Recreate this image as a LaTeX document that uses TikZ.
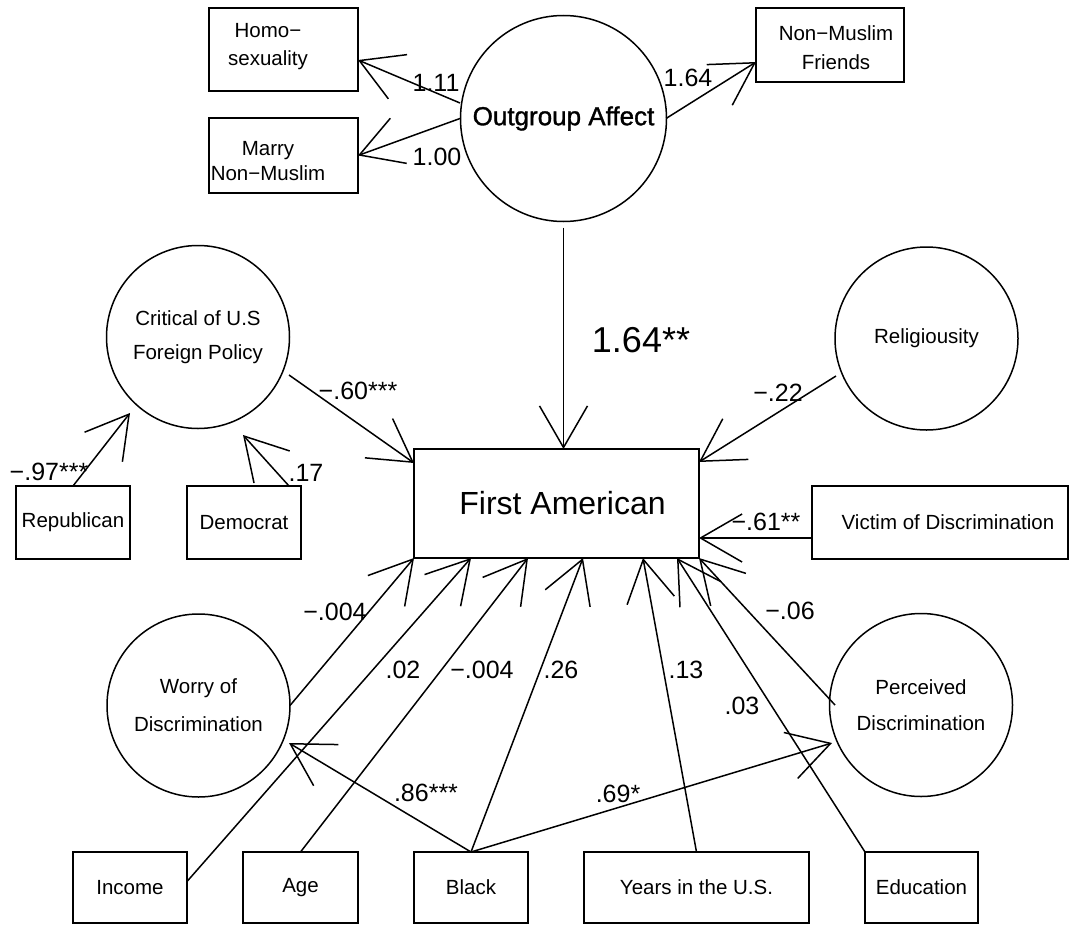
\documentclass[tikz,border=0pt]{standalone}
\usepackage{fontspec}
\setmainfont{Liberation Sans}
\newfontfamily\heavyfont[FakeBold=1.2]{Liberation Sans}
\usetikzlibrary{arrows.meta,calc}
\begin{document}
\begin{tikzpicture}[x=1pt,y=-1pt,
  every node/.style={inner sep=0pt, outer sep=0pt},
  box/.style={draw, line width=1.5pt, rectangle, align=center, font=\fontsize{20.5}{25}\selectfont},
  lat/.style={draw, line width=1.5pt, circle, minimum size=183pt, align=center, font=\fontsize{20.5}{36}\selectfont},
  ntext/.style={align=center, font=\fontsize{20.5}{28}\selectfont},
  lab/.style={font=\fontsize{25}{30}\selectfont},
  conn/.style={line width=1.5pt, -{Straight Barb[length=41.6pt,width=48pt]}}
]
\useasboundingbox (0,0) rectangle (1070,926);

% latent variables
\node[lat, minimum size=206pt, font=\heavyfont\fontsize{26}{30}\selectfont] (out) at (563.5,118.5) {Outgroup Affect};
\node[lat, font=\fontsize{20.5}{34}\selectfont] (crit) at (198,337) {Critical of U.S\\Foreign Policy};
\node[lat] (relig) at (926.5,338.5) {Religiousity};
\node[lat, font=\fontsize{20.5}{38}\selectfont] (worry) at (198.5,705.5) {Worry of\\Discrimination};
\node[lat] (perc) at (921,705) {Perceived\\Discrimination};

% indicator boxes
\node[box, minimum width=149pt, minimum height=83pt] (homo) at (283.5,49.5) {};
\node[ntext] (homot) at (268,47) {Homo−\\sexuality};
\node[box, minimum width=149pt, minimum height=75pt] (marry) at (283.5,155.5) {};
\node[ntext, font=\fontsize{20.5}{25}\selectfont] (marryt) at (268,161) {Marry\\Non−Muslim};
\node[box, minimum width=148pt, minimum height=74pt] (friends) at (830,45) {};
\node[ntext, font=\fontsize{20.5}{29}\selectfont] (friendst) at (836,48) {Non−Muslim\\Friends};

% observed
\node[box, minimum width=285pt, minimum height=109pt, font=\fontsize{32}{36}\selectfont] (fa) at (556.5,503.5) {\hspace*{12pt}First American};
\node[box, minimum width=114pt, minimum height=73pt] (rep) at (73,522.5) {Republican};
\node[box, minimum width=114pt, minimum height=73pt] (dem) at (244,522.5) {Democrat};
\node[box, minimum width=256pt, minimum height=73pt] (victim) at (940,522.5) {\hspace*{16pt}Victim of Discrimination};
\node[box, minimum width=114pt, minimum height=71pt] (income) at (130,887.5) {Income};
\node[box, minimum width=115pt, minimum height=71pt] (age) at (300.5,887.5) {Age};
\node[box, minimum width=114pt, minimum height=71pt] (black) at (471,887.5) {Black};
\node[box, minimum width=225pt, minimum height=71pt] (years) at (696.5,887.5) {Years in the U.S.};
\node[box, minimum width=113pt, minimum height=71pt] (educ) at (921.5,887.5) {Education};

% connectors
\draw[conn] ($(out.center)+(-103.5,-15.5)$) -- ($(homo.east)+(0,10.5)$);
\draw[conn] ($(out.center)+(-103.5,0)$) -- (marry.east);
\draw[conn] ($(out.center)+(102.5,0)$) -- ($(friends.west)+(0,17)$);
\draw[conn] ($(out.south)+(0,6)$) -- ($(fa.north)+(7,0)$);
\draw[conn] ($(crit.center)+(91,38)$) -- ($(fa.north west)+(0,14)$);
\draw[conn] (rep.north) -- ($(crit.center)+(-68,76)$);
\draw[conn] ($(dem.north east)+(-12,0)$) -- ($(crit.center)+(45,98)$);
\draw[conn] ($(relig.center)+(-90.5,37.5)$) -- ($(fa.north east)+(0,13)$);
\draw[conn] ($(victim.west)+(0,15.5)$) -- ($(fa.east)+(0,34.5)$);
\draw[conn] (worry.east) -- (fa.south west);
\draw[conn] ($(income.east)+(0,-6)$) -- ($(fa.south west)+(57,0)$);
\draw[conn] (age.north) -- ($(fa.south west)+(114,0)$);
\draw[conn] (black.north) -- ($(fa.south west)+(169,0)$);
\draw[conn] (years.north) -- ($(fa.south west)+(229,0)$);
\draw[conn] (educ.north west) -- ($(fa.south west)+(263,0)$);
\draw[conn] ($(perc.center)+(-86,0)$) -- (fa.south east);
\draw[conn] (black.north) -- ($(worry.center)+(90.5,37.5)$);
\draw[conn] (black.north) -- ($(perc.center)+(-89,38)$);

% labels
\node[lab] (l1) at (436,83) {1.11};
\node[lab] (l2) at (437,157) {1.00};
\node[lab] (l3) at (688,78) {1.64};
\node[font=\fontsize{36}{40}\selectfont] (l4) at (641,340) {1.64**};
\node[lab] (l5) at (358,391) {−.60***};
\node[lab] (l6) at (49,472) {−.97***};
\node[lab] (l7) at (306,473) {.17};
\node[lab] (l8) at (778,393) {−.22};
\node[lab] (l9) at (766,522) {−.61**};
\node[lab] (l10) at (335,612) {−.004};
\node[lab] (l11) at (403,670) {.02};
\node[lab] (l12) at (482,670) {−.004};
\node[lab] (l13) at (561,670) {.26};
\node[lab] (l14) at (686,670) {.13};
\node[lab] (l15) at (742,706) {.03};
\node[lab] (l16) at (790,611) {−.06};
\node[lab] (l17) at (426,793) {.86***};
\node[lab] (l18) at (618,794) {.69*};
\end{tikzpicture}
\end{document}
